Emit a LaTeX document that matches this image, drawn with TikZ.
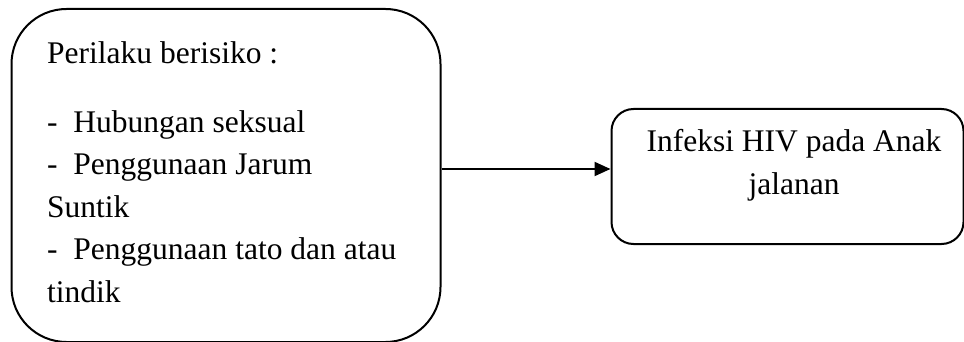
\documentclass[tikz,border=0pt]{standalone}
\usepackage{fontspec}
\setmainfont{Liberation Serif}
\usetikzlibrary{arrows.meta}
\begin{document}
\begin{tikzpicture}[x=1pt,y=-1pt,
  box/.style={draw=black,line width=2pt,rounded corners=#1,inner sep=0pt,anchor=north west},
  txt/.style={inner sep=0pt,font=\fontsize{31.5}{42.5}\selectfont},
  conn/.style={draw=black,line width=2pt,-{Triangle[length=16pt,width=14pt]}}]
\useasboundingbox (0,0) rectangle (964,342);
\node[box=55pt,minimum width=429pt,minimum height=333pt] (left) at (10.5,8) {};
\node[box=22pt,minimum width=352pt,minimum height=135pt] (right) at (610.5,108) {};
\node[txt,anchor=base west,align=left] (ltext) at (47,302)
  {Perilaku berisiko :\\[26.5pt]
   -\ \ Hubungan seksual\\
   -\ \ Penggunaan Jarum\\
   Suntik\\
   -\ \ Penggunaan tato dan atau\\
   tindik};
\node[txt,anchor=base,align=center] (rtext) at (794,194)
  {Infeksi HIV pada Anak\\jalanan};
\coordinate (a) at (left.east |- 0,169);
\coordinate (b) at (right.west |- 0,169);
\draw[conn] (a) -- (b);
\end{tikzpicture}
\end{document}
